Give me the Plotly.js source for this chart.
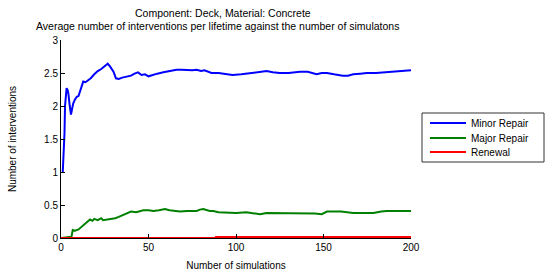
<!DOCTYPE html>
<html>
<head>
<meta charset="utf-8">
<script src="https://cdn.plot.ly/plotly-3.0.1.min.js"></script>
<style>html,body{margin:0;padding:0;background:#fff;}#chart{width:545px;height:273px;}</style>
</head>
<body>
<div id="chart"></div>
<script>
var minorX = [1, 1.5, 2, 2.3, 2.8, 3.2, 3.8, 4.2, 5, 5.7, 6.3, 7, 8, 9, 10, 11, 12.7, 14, 15.6, 17, 19, 21, 23, 25, 26.7, 28, 30, 31.4, 33, 35, 37.5, 40, 42, 44, 46, 48, 50, 52, 55, 58.5, 62, 66, 69, 72, 75, 77.5, 80, 82, 84, 86, 90, 94.7, 98, 103, 108, 113, 117.5, 121, 125, 130, 136.6, 141, 146, 149, 152, 156, 161, 164, 167, 171, 174.7, 180, 186, 190, 195.6, 198, 200];
var minorY = [1.0, 1.25, 1.59, 2.0, 2.2, 2.27, 2.24, 2.19, 2.0, 1.87, 1.95, 2.04, 2.1, 2.14, 2.15, 2.24, 2.37, 2.36, 2.39, 2.42, 2.48, 2.53, 2.56, 2.6, 2.64, 2.6, 2.52, 2.42, 2.41, 2.43, 2.45, 2.46, 2.49, 2.51, 2.47, 2.48, 2.45, 2.47, 2.49, 2.51, 2.53, 2.55, 2.55, 2.54, 2.54, 2.55, 2.53, 2.54, 2.52, 2.5, 2.5, 2.48, 2.47, 2.48, 2.5, 2.52, 2.53, 2.51, 2.5, 2.5, 2.52, 2.52, 2.48, 2.5, 2.5, 2.48, 2.46, 2.46, 2.48, 2.49, 2.5, 2.5, 2.51, 2.52, 2.53, 2.53, 2.54];
var majorX = [0, 6, 6.7, 8, 10, 12, 13.7, 15, 16.6, 18, 19, 21, 23, 24, 26, 28, 31, 33, 35.6, 38, 40, 43, 47, 50, 52.8, 56, 59.4, 62, 65, 68, 72, 77.5, 79.4, 81.3, 85, 87, 90, 94.7, 100, 106, 110, 113.7, 117.5, 121, 129, 137, 145, 149, 152, 160, 167, 172, 178.5, 183, 186, 192, 200];
var majorY = [0, 0.02, 0.12, 0.11, 0.13, 0.18, 0.22, 0.25, 0.28, 0.26, 0.29, 0.27, 0.3, 0.27, 0.28, 0.28, 0.3, 0.32, 0.35, 0.38, 0.4, 0.39, 0.42, 0.42, 0.41, 0.42, 0.44, 0.42, 0.41, 0.4, 0.41, 0.41, 0.43, 0.44, 0.41, 0.41, 0.39, 0.38, 0.38, 0.39, 0.37, 0.36, 0.38, 0.38, 0.38, 0.38, 0.37, 0.36, 0.4, 0.4, 0.38, 0.38, 0.38, 0.4, 0.41, 0.41, 0.41];
var renewalX = [0, 88, 88.5, 200];
var renewalY = [0, 0, 0.015, 0.015];
var seriesNames = ["Minor Repair", "Major Repair", "Renewal"];
var seriesColors = ["#0000ff", "#008000", "#ff0000"];
var titleLines = ["Component: Deck, Material: Concrete", "Average number of interventions per lifetime against the number of simulatons"];
var xTicks = [0, 50, 100, 150, 200];
var yTicks = [0, 0.5, 1, 1.5, 2, 2.5, 3];

var FONT = "Liberation Sans, Arial, sans-serif";
var traces = [
  {x: minorX, y: minorY, name: seriesNames[0], mode: "lines", line: {color: seriesColors[0], width: 2}},
  {x: majorX, y: majorY, name: seriesNames[1], mode: "lines", line: {color: seriesColors[1], width: 2}},
  {x: renewalX, y: renewalY, name: seriesNames[2], mode: "lines", line: {color: seriesColors[2], width: 2}}
];

// plot area in pixels: x 61..411, y 40..238
function px2x(px) { return (px - 61) / 350; }
function py2y(py) { return (238 - py) / 198; }

var annotations = [
  {text: titleLines[0], xref: "paper", yref: "paper", x: px2x(223), y: py2y(13), xanchor: "center", yanchor: "middle", showarrow: false, font: {family: FONT, size: 10.5, color: "#000"}},
  {text: titleLines[1], xref: "paper", yref: "paper", x: px2x(217), y: py2y(26), xanchor: "center", yanchor: "middle", showarrow: false, font: {family: FONT, size: 10.5, color: "#000"}}
];
var shapes = [
  {type: "rect", xref: "paper", yref: "paper", x0: px2x(422), x1: px2x(544), y0: py2y(113), y1: py2y(162), line: {color: "#333", width: 1}, fillcolor: "#fff", layer: "above"}
];
var legendRows = [123, 138, 152];
for (var i = 0; i < seriesNames.length; i++) {
  shapes.push({type: "line", xref: "paper", yref: "paper", x0: px2x(430), x1: px2x(466), y0: py2y(legendRows[i]), y1: py2y(legendRows[i]), line: {color: seriesColors[i], width: 2}, layer: "above"});
  annotations.push({text: seriesNames[i], xref: "paper", yref: "paper", x: px2x(469), y: py2y(legendRows[i]), xanchor: "left", yanchor: "middle", showarrow: false, font: {family: FONT, size: 10, color: "#000"}});
}

var layout = {
  width: 545, height: 273,
  margin: {l: 61, r: 134, t: 40, b: 35},
  paper_bgcolor: "#ffffff", plot_bgcolor: "#ffffff",
  font: {family: FONT, size: 10, color: "#000"},
  xaxis: {range: [0, 200], tickvals: xTicks, ticks: "inside", ticklen: 4, tickcolor: "#000",
          showline: true, linecolor: "#000", linewidth: 1, showgrid: false, zeroline: false,
          title: {text: "Number of simulations", font: {family: FONT, size: 10}, standoff: 9},
          tickfont: {family: FONT, size: 10}},
  yaxis: {range: [0, 3], tickvals: yTicks, ticktext: ["0","0.5","1","1.5","2","2.5","3"], ticks: "inside", ticklen: 4, tickcolor: "#000",
          showline: true, linecolor: "#000", linewidth: 1, showgrid: false, zeroline: false,
          title: {text: "Number of interventions", font: {family: FONT, size: 10}, standoff: 25},
          tickfont: {family: FONT, size: 10}},
  showlegend: false,
  annotations: annotations,
  shapes: shapes
};
Plotly.newPlot("chart", traces, layout, {displayModeBar: false, staticPlot: true});
</script>
</body>
</html>
